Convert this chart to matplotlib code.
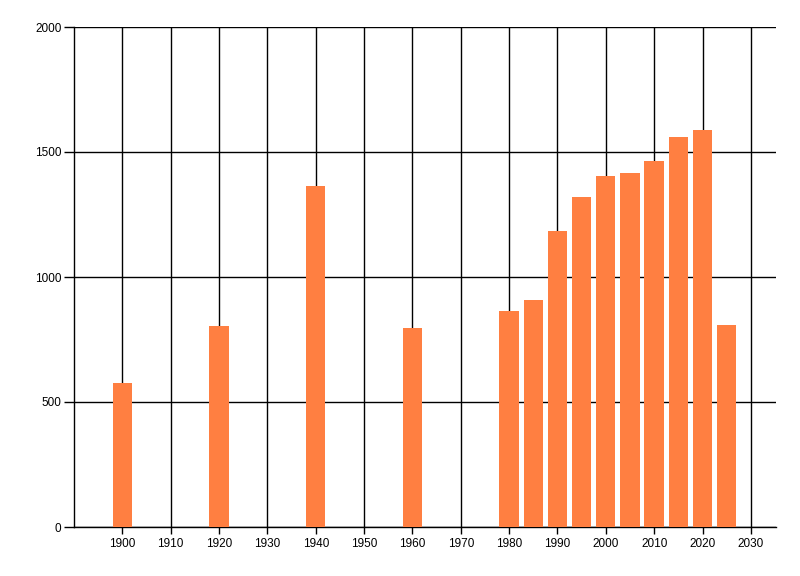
import matplotlib
matplotlib.use("Agg")
import matplotlib.pyplot as plt

years = [1900, 1920, 1940, 1960, 1980, 1985, 1990, 1995, 2000, 2005, 2010, 2015, 2020, 2025]
values = [576, 804, 1364, 796, 864, 908, 1184, 1320, 1404, 1416, 1464, 1560, 1588, 808]
x_ticks = list(range(1900, 2031, 10))
y_ticks = [0, 500, 1000, 1500, 2000]

plt.rcParams["font.family"] = ["Liberation Sans", "DejaVu Sans"]

fig = plt.figure(figsize=(8, 5.76), dpi=100)
ax = fig.add_axes([74 / 800, 49 / 576, 702 / 800, 500 / 576])

ax.bar(years, values, width=4, color="#FF7F41", zorder=3)

ax.set_xlim(1890, 2035.2)
ax.set_ylim(0, 2000)
ax.set_xticks(x_ticks)
ax.set_yticks(y_ticks)
ax.grid(True, color="black", linewidth=1, zorder=1)
ax.set_axisbelow(True)

for side in ["top", "right"]:
    ax.spines[side].set_visible(False)
for side in ["left", "bottom"]:
    ax.spines[side].set_linewidth(1)

ax.tick_params(axis="x", length=5, width=1, labelsize=8.5, pad=3)
ax.tick_params(axis="y", length=7, width=1, labelsize=8.5, pad=2)

plt.savefig("out.png", dpi=100)
